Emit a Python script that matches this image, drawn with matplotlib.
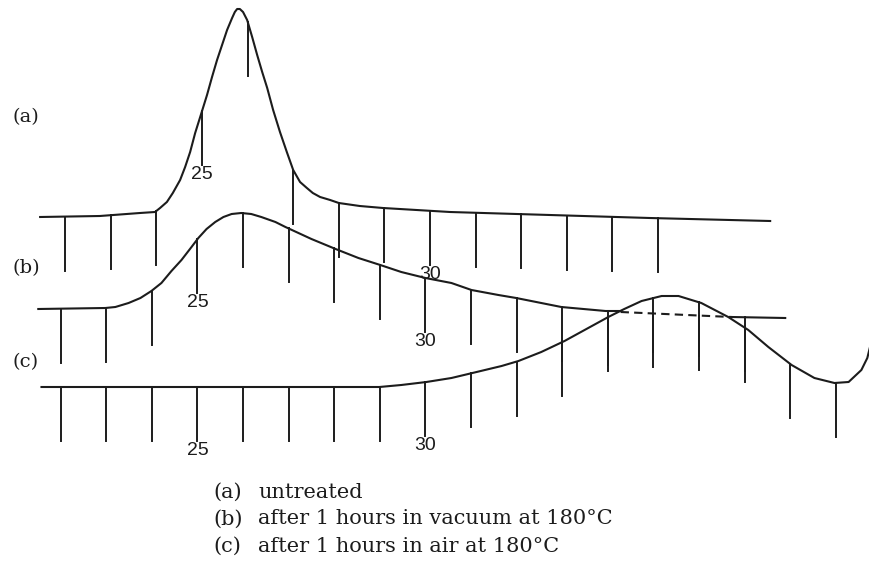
"""Recorder traces (a)-(c) with degree ticks hanging under each trace."""

import matplotlib
matplotlib.use("Agg")
import matplotlib.pyplot as plt
import numpy as np

# trace (a): untreated, 2-theta vs pen deflection above its own baseline
a_theta = [21.45, 22.76, 23.64, 23.97, 24.08, 24.23, 24.36, 24.52, 24.63, 24.74,
           24.85, 24.96, 25.11, 25.22, 25.33, 25.44, 25.55, 25.66, 25.72, 25.77,
           25.83, 25.90, 25.99, 26.10, 26.21, 26.32, 26.43, 26.56, 26.71, 26.86,
           27.00, 27.15, 27.30, 27.43, 27.59, 27.81, 28.00, 28.46, 28.97, 30.44,
           32.63, 34.82, 37.46]
a_height = [0, 1, 4, 5, 9, 15, 24, 37, 50, 65,
            84, 100, 122, 140, 157, 172, 187, 199, 205, 208,
            208, 205, 197, 180, 162, 145, 129, 107, 85, 65,
            47, 35, 29, 24, 20, 17, 14, 11, 9, 5,
            2, -1, -4]

# trace (b): 1 h in vacuum at 180 C
b_theta = [21.51, 22.98, 23.20, 23.49, 23.75, 23.99, 24.21, 24.43, 24.65, 24.87,
           25.02, 25.20, 25.39, 25.57, 25.75, 25.96, 26.18, 26.40, 26.71, 26.93,
           27.50, 28.03, 28.53, 29.01, 29.47, 30.00, 30.57, 31.01, 31.60, 31.99,
           32.98, 33.95, 34.28]
b_height = [0, 1, 2, 6, 11, 18, 26, 38, 49, 62,
            71, 80, 87, 92, 95, 96, 95, 92, 87, 82,
            70, 60, 51, 44, 37, 31, 26, 19, 14, 11,
            2, -2, -2]
b_dash_theta = [34.28, 36.71]
b_dash_height = [-3, -8]
b_tail_theta = [36.71, 37.89]
b_tail_height = [-8, -9]

# trace (c): 1 h in air at 180 C
c_theta = [21.58, 28.99, 29.47, 30.02, 30.57, 31.03, 31.67, 32.04, 32.54, 33.05,
           33.53, 34.01, 34.36, 34.74, 35.18, 35.55, 36.05, 36.64, 37.08, 37.52,
           38.03, 38.53, 38.97, 39.28, 39.56, 39.69, 39.76]
c_height = [0, 0, 2, 5, 9, 14, 21, 26, 35, 46,
            58, 70, 78, 86, 91, 91, 84, 70, 57, 40,
            22, 9, 4, 5, 17, 29, 42]

a_ticks = list(range(22, 36))
b_ticks = list(range(22, 38))
c_ticks = list(range(22, 40))
tick_labels = {25: "25", 30: "30"}

side_labels = ["(a)", "(b)", "(c)"]
legend_tags = ["(a)", "(b)", "(c)"]
legend_texts = ["untreated",
                "after 1 hours in vacuum at 180°C",
                "after 1 hours in air at 180°C"]

INK = "#1c1c1c"
TICK_LEN = 54


def draw_trace(ax, theta, height, base, shift, ticks, extra=None):
    theta = np.asarray(theta) + shift
    height = np.asarray(height)
    ax.plot(theta, base + height, color=INK, lw=1.5, solid_joinstyle="round")
    all_th, all_h = theta, height
    if extra is not None:
        for th, h, ls in extra:
            ax.plot(np.asarray(th) + shift, base + np.asarray(h), color=INK,
                    lw=1.5, ls=ls)
        all_th = np.concatenate([theta] + [np.asarray(e[0]) + shift for e in extra])
        all_h = np.concatenate([height] + [np.asarray(e[1]) for e in extra])
        order = np.argsort(all_th, kind="stable")
        all_th, all_h = all_th[order], all_h[order]
    for t in ticks:
        top = base + np.interp(t + shift, all_th, all_h)
        ax.plot([t + shift, t + shift], [top, top - TICK_LEN], color=INK, lw=1.4)
        if t in tick_labels:
            ax.text(t + shift, top - TICK_LEN - 1, tick_labels[t], ha="center",
                    va="top", fontsize=14, family="Liberation Sans", color=INK)


fig = plt.figure(figsize=(8.69, 5.73), dpi=100)
ax = fig.add_axes([0, 0, 1, 1])
ax.set_xlim(25 - 202 / 45.6, 25 + (869 - 202) / 45.6)
ax.set_ylim(0, 573)
ax.axis("off")

draw_trace(ax, a_theta, a_height, 356, 0.0, a_ticks)
draw_trace(ax, b_theta, b_height, 264, -0.10, b_ticks,
           extra=[(b_dash_theta, b_dash_height, (0, (4, 2.5))),
                  (b_tail_theta, b_tail_height, "-")])
draw_trace(ax, c_theta, c_height, 186, -0.10, c_ticks)

for label, y in zip(side_labels, [456, 305, 211]):
    fig.text(12 / 869, y / 573, label, fontsize=14, family="DejaVu Serif",
             va="center", ha="left", color=INK)

for i, (tag, txt) in enumerate(zip(legend_tags, legend_texts)):
    y = (573 - 492 - 27 * i) / 573
    fig.text(213 / 869, y, tag, fontsize=15, family="DejaVu Serif",
             va="center", ha="left", color=INK)
    fig.text(258 / 869, y, txt, fontsize=15, family="DejaVu Serif",
             va="center", ha="left", color=INK)

fig.savefig("out.png", dpi=100, facecolor="white")
